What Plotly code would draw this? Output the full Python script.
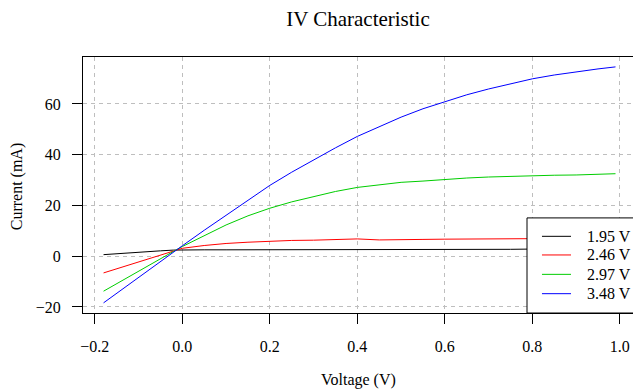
import plotly.graph_objects as go

# ---- data ----
voltage = [-0.18, -0.15, -0.10, -0.05, -0.02, 0.00, 0.05, 0.10, 0.15, 0.20, 0.25, 0.30, 0.35,
           0.40, 0.45, 0.50, 0.55, 0.60, 0.65, 0.70, 0.75, 0.80, 0.85, 0.90, 0.95, 0.99]
i_195 = [0.6, 1.0, 1.6, 2.1, 2.4, 2.5, 2.5, 2.5, 2.5, 2.5, 2.5, 2.5, 2.6,
         2.7, 2.5, 2.5, 2.6, 2.6, 2.6, 2.6, 2.7, 2.8, 2.9, 2.9, 2.9, 2.9]
i_246 = [-6.6, -5.0, -2.3, 0.5, 2.2, 3.1, 4.2, 5.0, 5.5, 5.9, 6.2, 6.3, 6.5,
         6.8, 6.4, 6.6, 6.6, 6.7, 6.8, 6.8, 6.8, 6.9, 6.9, 7.0, 7.0, 7.0]
i_297 = [-13.8, -10.8, -5.9, -1.0, 1.9, 3.8, 8.0, 12.3, 15.9, 18.9, 21.4, 23.6, 25.5,
         27.1, 28.2, 29.1, 29.6, 30.3, 30.8, 31.2, 31.5, 31.7, 31.9, 32.0, 32.3, 32.5]
i_348 = [-18.4, -14.6, -8.4, -2.2, 1.6, 4.1, 10.2, 16.2, 22.2, 27.9, 33.1, 38.0, 42.7,
         47.2, 51.1, 54.8, 58.1, 61.0, 63.6, 65.9, 68.0, 69.9, 71.4, 72.7, 73.8, 74.6]
series_names = ["1.95 V", "2.46 V", "2.97 V", "3.48 V"]
series_colors = ["#000000", "#FF0000", "#00CD00", "#0000FF"]
series_values = [i_195, i_246, i_297, i_348]
x_ticks = [-0.2, 0.0, 0.2, 0.4, 0.6, 0.8, 1.0]
x_ticklabels = ["\u22120.2", "0.0", "0.2", "0.4", "0.6", "0.8", "1.0"]
y_ticks = [-20, 0, 20, 40, 60]

FONT = "Liberation Serif"

fig = go.Figure()
for name, color, vals in zip(series_names, series_colors, series_values):
    fig.add_trace(go.Scatter(x=voltage, y=vals, mode="lines", name=name,
                             line=dict(color=color, width=1), showlegend=False))

axis_common = dict(showline=True, mirror=True, linecolor="black", linewidth=1,
                   ticks="outside", ticklen=10, tickcolor="black", tickwidth=1,
                   showgrid=True, gridcolor="#BEBEBE", gridwidth=1, griddash="4px,4px",
                   zeroline=False, automargin=False,
                   tickfont=dict(family=FONT, size=16, color="black"))

fig.update_xaxes(range=[-0.227, 1.03], tickvals=x_ticks, ticktext=x_ticklabels,
                 ticklabelstandoff=9, **axis_common)
fig.update_yaxes(range=[-22.4, 78.5], tickvals=y_ticks, ticklabelstandoff=8, **axis_common)

# legend drawn as a boxed key in the lower right corner
shapes = [dict(type="rect", xref="paper", yref="paper", x0=0.8073, x1=1.03, y0=0.0, y1=0.3714,
               fillcolor="white", line=dict(color="black", width=1), layer="above")]
annotations = []
row_y = [0.2995, 0.2267, 0.151, 0.0755]
for name, color, yy in zip(series_names, series_colors, row_y):
    shapes.append(dict(type="line", xref="paper", yref="paper", x0=0.8345, x1=0.8873,
                       y0=yy, y1=yy, line=dict(color=color, width=1), layer="above"))
    annotations.append(dict(text=name, xref="paper", yref="paper", x=0.9127, y=yy,
                            xanchor="left", yanchor="middle", showarrow=False,
                            font=dict(family=FONT, size=16, color="black")))

annotations.append(dict(text="Voltage (V)", xref="paper", yref="paper", x=0.5, y=-0.262,
                        xanchor="center", yanchor="middle", showarrow=False,
                        font=dict(family=FONT, size=16, color="black")))
annotations.append(dict(text="Current (mA)", xref="paper", yref="paper", x=-0.12, y=0.495,
                        xanchor="center", yanchor="middle", textangle=-90, showarrow=False,
                        font=dict(family=FONT, size=16, color="black")))

fig.update_layout(
    width=633, height=392,
    margin=dict(l=83, r=0, t=57, b=79, autoexpand=False),
    paper_bgcolor="white", plot_bgcolor="white",
    title=dict(text="IV Characteristic", x=0.5655, xref="container", xanchor="center",
               y=1 - 19 / 392, yref="container", yanchor="middle",
               font=dict(family=FONT, size=21, color="black")),
    shapes=shapes, annotations=annotations,
)

fig.write_html("out.html", config={"displayModeBar": False},
               post_script="document.body.style.margin='0px';document.body.style.overflow='hidden';")
